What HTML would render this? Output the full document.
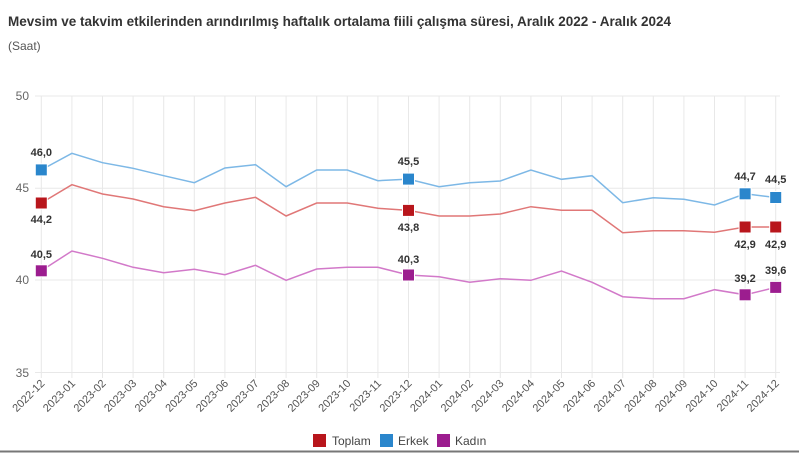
<!DOCTYPE html>
<html><head><meta charset="utf-8"><style>
html,body{margin:0;padding:0;background:#fff;}
svg{display:block;font-family:"Liberation Sans",sans-serif;}
</style></head><body>
<svg width="799" height="453" viewBox="0 0 799 453" xmlns="http://www.w3.org/2000/svg">
<rect width="799" height="453" fill="#fff"/>
<text x="8" y="26" font-size="13.5" font-weight="bold" fill="#333">Mevsim ve takvim etkilerinden arındırılmış haftalık ortalama fiili çalışma süresi, Aralık 2022 - Aralık 2024</text>
<text x="8" y="50" font-size="12" fill="#555">(Saat)</text>
<g stroke="#e8e8e8" stroke-width="1">
<line x1="35" y1="96" x2="780" y2="96"/><line x1="35" y1="188.3" x2="780" y2="188.3"/><line x1="35" y1="280" x2="780" y2="280"/><line x1="35" y1="372.5" x2="780" y2="372.5"/>
<line x1="41.3" y1="96" x2="41.3" y2="378"/><line x1="71.9" y1="96" x2="71.9" y2="378"/><line x1="102.5" y1="96" x2="102.5" y2="378"/><line x1="133.1" y1="96" x2="133.1" y2="378"/><line x1="163.7" y1="96" x2="163.7" y2="378"/><line x1="194.3" y1="96" x2="194.3" y2="378"/><line x1="224.9" y1="96" x2="224.9" y2="378"/><line x1="255.5" y1="96" x2="255.5" y2="378"/><line x1="286.1" y1="96" x2="286.1" y2="378"/><line x1="316.7" y1="96" x2="316.7" y2="378"/><line x1="347.3" y1="96" x2="347.3" y2="378"/><line x1="377.9" y1="96" x2="377.9" y2="378"/><line x1="408.5" y1="96" x2="408.5" y2="378"/><line x1="439.1" y1="96" x2="439.1" y2="378"/><line x1="469.7" y1="96" x2="469.7" y2="378"/><line x1="500.3" y1="96" x2="500.3" y2="378"/><line x1="530.9" y1="96" x2="530.9" y2="378"/><line x1="561.5" y1="96" x2="561.5" y2="378"/><line x1="592.1" y1="96" x2="592.1" y2="378"/><line x1="622.7" y1="96" x2="622.7" y2="378"/><line x1="653.3" y1="96" x2="653.3" y2="378"/><line x1="683.9" y1="96" x2="683.9" y2="378"/><line x1="714.5" y1="96" x2="714.5" y2="378"/><line x1="745.1" y1="96" x2="745.1" y2="378"/><line x1="775.7" y1="96" x2="775.7" y2="378"/>
</g>
<g font-size="12" fill="#666" text-anchor="end">
<text x="29" y="100">50</text><text x="29" y="192">45</text><text x="29" y="284">40</text><text x="29" y="377">35</text>
</g>
<polyline fill="none" stroke="#7db8e6" stroke-width="1.5" points="41.3,169.9 71.9,153.3 102.5,162.7 133.1,168.3 163.7,175.7 194.3,182.7 224.9,168 255.5,164.7 286.1,186.7 316.7,170 347.3,170 377.9,180.7 408.5,179.1 439.1,186.7 469.7,182.7 500.3,181 530.9,170 561.5,179.3 592.1,175.7 622.7,202.7 653.3,197.7 683.9,199.3 714.5,205 745.1,193.8 775.7,197.5"/>
<polyline fill="none" stroke="#e07777" stroke-width="1.5" points="41.3,203 71.9,184.7 102.5,194 133.1,199 163.7,206.7 194.3,210.7 224.9,203 255.5,197.3 286.1,216 316.7,203 347.3,203 377.9,208.3 408.5,210.4 439.1,216 469.7,216 500.3,214 530.9,206.7 561.5,210.3 592.1,210.3 622.7,232.7 653.3,230.7 683.9,230.7 714.5,232.3 745.1,227 775.7,227"/>
<polyline fill="none" stroke="#d279c9" stroke-width="1.5" points="41.3,270.8 71.9,251 102.5,258.3 133.1,267.3 163.7,272.7 194.3,269.3 224.9,274.7 255.5,265.3 286.1,280.3 316.7,269 347.3,267.3 377.9,267.3 408.5,275 439.1,276.7 469.7,282.3 500.3,278.7 530.9,280.3 561.5,271 592.1,282.3 622.7,296.7 653.3,298.7 683.9,298.7 714.5,289.7 745.1,294.8 775.7,287.4"/>
<g stroke="#fff" stroke-width="1">
<rect x="35.3" y="163.9" width="12" height="12" fill="#2a86cc"/><rect x="402.5" y="173.1" width="12" height="12" fill="#2a86cc"/><rect x="739.1" y="187.8" width="12" height="12" fill="#2a86cc"/><rect x="769.7" y="191.5" width="12" height="12" fill="#2a86cc"/>
<rect x="35.3" y="197" width="12" height="12" fill="#b8161c"/><rect x="402.5" y="204.4" width="12" height="12" fill="#b8161c"/><rect x="739.1" y="221" width="12" height="12" fill="#b8161c"/><rect x="769.7" y="221" width="12" height="12" fill="#b8161c"/>
<rect x="35.3" y="264.8" width="12" height="12" fill="#9c1d8f"/><rect x="402.5" y="269" width="12" height="12" fill="#9c1d8f"/><rect x="739.1" y="288.8" width="12" height="12" fill="#9c1d8f"/><rect x="769.7" y="281.4" width="12" height="12" fill="#9c1d8f"/>
</g>
<g font-size="11" font-weight="bold" fill="#333" text-anchor="middle">
<text x="41.3" y="156">46,0</text><text x="41.3" y="223">44,2</text><text x="41.3" y="258">40,5</text>
<text x="408.5" y="165">45,5</text><text x="408.5" y="231">43,8</text><text x="408.5" y="263">40,3</text>
<text x="745.1" y="180">44,7</text><text x="775.7" y="183">44,5</text>
<text x="745.1" y="248">42,9</text><text x="775.7" y="248">42,9</text>
<text x="745.1" y="282">39,2</text><text x="775.7" y="274">39,6</text>
</g>
<g font-size="11" fill="#555" text-anchor="end">
<text transform="translate(45.3,384) rotate(-45)">2022-12</text>
<text transform="translate(75.9,384) rotate(-45)">2023-01</text>
<text transform="translate(106.5,384) rotate(-45)">2023-02</text>
<text transform="translate(137.1,384) rotate(-45)">2023-03</text>
<text transform="translate(167.7,384) rotate(-45)">2023-04</text>
<text transform="translate(198.3,384) rotate(-45)">2023-05</text>
<text transform="translate(228.9,384) rotate(-45)">2023-06</text>
<text transform="translate(259.5,384) rotate(-45)">2023-07</text>
<text transform="translate(290.1,384) rotate(-45)">2023-08</text>
<text transform="translate(320.7,384) rotate(-45)">2023-09</text>
<text transform="translate(351.3,384) rotate(-45)">2023-10</text>
<text transform="translate(381.9,384) rotate(-45)">2023-11</text>
<text transform="translate(412.5,384) rotate(-45)">2023-12</text>
<text transform="translate(443.1,384) rotate(-45)">2024-01</text>
<text transform="translate(473.7,384) rotate(-45)">2024-02</text>
<text transform="translate(504.3,384) rotate(-45)">2024-03</text>
<text transform="translate(534.9,384) rotate(-45)">2024-04</text>
<text transform="translate(565.5,384) rotate(-45)">2024-05</text>
<text transform="translate(596.1,384) rotate(-45)">2024-06</text>
<text transform="translate(626.7,384) rotate(-45)">2024-07</text>
<text transform="translate(657.3,384) rotate(-45)">2024-08</text>
<text transform="translate(687.9,384) rotate(-45)">2024-09</text>
<text transform="translate(718.5,384) rotate(-45)">2024-10</text>
<text transform="translate(749.1,384) rotate(-45)">2024-11</text>
<text transform="translate(779.7,384) rotate(-45)">2024-12</text>
</g>
<rect x="313" y="434" width="13" height="13" fill="#b8161c"/><text x="332" y="445" font-size="12" fill="#444">Toplam</text>
<rect x="380" y="434" width="13" height="13" fill="#2a86cc"/><text x="398" y="445" font-size="12" fill="#444">Erkek</text>
<rect x="437" y="434" width="13" height="13" fill="#9c1d8f"/><text x="455" y="445" font-size="12" fill="#444">Kadın</text>
<line x1="0" y1="451.5" x2="799" y2="451.5" stroke="#777" stroke-width="2"/>
</svg>
</body></html>
